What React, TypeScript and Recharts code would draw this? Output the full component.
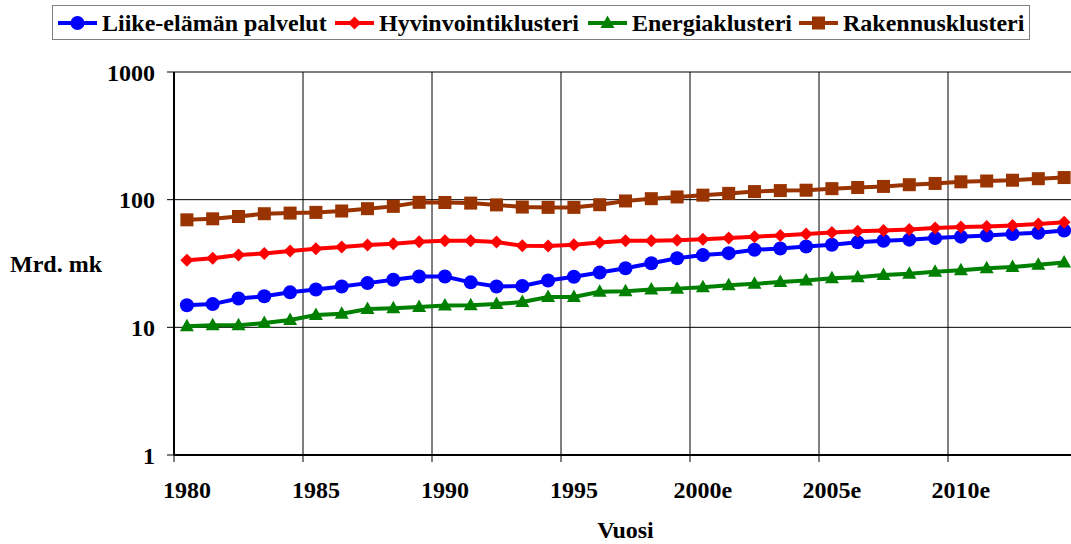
import { LineChart, Line, XAxis, YAxis, CartesianGrid, ReferenceLine, Legend } from 'recharts';

const years = [
  1980, 1981, 1982, 1983, 1984, 1985, 1986, 1987, 1988, 1989,
  1990, 1991, 1992, 1993, 1994, 1995, 1996, 1997, 1998, 1999,
  2000, 2001, 2002, 2003, 2004, 2005, 2006, 2007, 2008, 2009,
  2010, 2011, 2012, 2013, 2014,
];

const liikeElama = [
  14.9, 15.2, 16.8, 17.5, 18.8, 19.8, 20.9, 22.2, 23.6, 25.0,
  25.0, 22.5, 20.9, 21.1, 23.3, 24.9, 26.9, 29.0, 31.8, 34.8,
  36.8, 38.1, 40.5, 41.5, 43.0, 44.3, 46.3, 47.7, 48.6, 50.0,
  51.3, 52.5, 53.8, 55.1, 57.4,
];

const hyvinvointi = [
  33.6, 34.8, 36.8, 37.9, 39.7, 41.2, 42.5, 44.1, 45.2, 46.9,
  47.7, 47.7, 46.6, 43.6, 43.3, 44.3, 46.2, 47.7, 47.7, 48.2,
  49.0, 50.0, 51.3, 52.3, 53.8, 55.4, 56.5, 57.4, 58.5, 59.9,
  61.0, 61.6, 62.8, 64.5, 66.5,
];

const energia = [
  10.2, 10.4, 10.4, 10.8, 11.4, 12.5, 12.8, 13.9, 14.1, 14.4,
  14.8, 14.9, 15.2, 15.8, 17.3, 17.3, 19.0, 19.2, 19.8, 20.1,
  20.6, 21.4, 21.9, 22.7, 23.3, 24.2, 24.7, 25.7, 26.3, 27.3,
  28.0, 29.0, 29.7, 30.9, 32.2,
];

const rakennus = [
  69.5, 70.8, 73.8, 77.6, 78.5, 79.5, 81.5, 85.0, 88.6, 95.3,
  95.0, 94.0, 91.0, 87.5, 87.0, 87.0, 91.3, 97.7, 101.8, 105.0,
  108.5, 112.0, 115.7, 117.8, 118.6, 122.0, 124.5, 127.0, 131.0, 134.0,
  138.0, 140.0, 142.0, 146.0, 149.0,
];

const yTicks = [1, 10, 100, 1000];
const labelYears = [1980, 1985, 1990, 1995, 2000, 2005, 2010];
const boundaryYears = [1979.5, 1984.5, 1989.5, 1994.5, 1999.5, 2004.5, 2009.5, 2014.5];

const series = [
  { key: 'liike', name: 'Liike-elämän palvelut', color: '#0000FF', shape: 'circle', values: liikeElama, legendX: 5 },
  { key: 'hyvin', name: 'Hyvinvointiklusteri', color: '#FF0000', shape: 'diamond', values: hyvinvointi, legendX: 282 },
  { key: 'energia', name: 'Energiaklusteri', color: '#008000', shape: 'triangle', values: energia, legendX: 535 },
  { key: 'rakennus', name: 'Rakennusklusteri', color: '#993300', shape: 'square', values: rakennus, legendX: 746 },
];

const data = years.map((year, i) => {
  const row: Record<string, number> = { year };
  series.forEach((s) => { row[s.key] = s.values[i]; });
  return row;
});

const FONT = "'Liberation Serif', 'Times New Roman', serif";
const FS = 24;

function Marker({ shape, color, cx, cy }: { shape: string; color: string; cx: number; cy: number }) {
  if (shape === 'circle') return <circle cx={cx} cy={cy} r={7} fill={color} />;
  if (shape === 'diamond') {
    const r = 6.5;
    return <polygon points={`${cx},${cy - r} ${cx + r},${cy} ${cx},${cy + r} ${cx - r},${cy}`} fill={color} />;
  }
  if (shape === 'triangle') {
    return <polygon points={`${cx},${cy - 7.5} ${cx + 7},${cy + 5} ${cx - 7},${cy + 5}`} fill={color} />;
  }
  return <rect x={cx - 6.5} y={cy - 6.5} width={13} height={13} fill={color} />;
}

const XTick = (props: any) => {
  const { x, y, payload } = props;
  const v = payload.value;
  if (boundaryYears.includes(v)) {
    return <line x1={x} x2={x} y1={y - 7} y2={y} stroke="#000" strokeWidth={1} />;
  }
  return (
    <text x={x} y={y + 19} dy="0.71em" textAnchor="middle" style={{ fontFamily: FONT }} fontWeight="bold" fontSize={FS} fill="#000">
      {v >= 2000 ? `${v}e` : `${v}`}
    </text>
  );
};

const renderLegend = () => (
  <div
    style={{
      position: 'relative',
      boxSizing: 'border-box',
      width: 978,
      height: 35,
      border: '1px solid #808080',
      background: '#fff',
      fontFamily: FONT,
      fontWeight: 'bold',
      fontSize: FS,
      color: '#000',
    }}
  >
    {series.map((s) => (
      <div
        key={s.key}
        style={{ position: 'absolute', left: s.legendX, top: 0, height: 33, display: 'flex', alignItems: 'center', whiteSpace: 'nowrap' }}
      >
        <svg width={39} height={16} style={{ marginRight: 5 }}>
          <line x1={0} x2={39} y1={8} y2={8} stroke={s.color} strokeWidth={4} />
          <Marker shape={s.shape} color={s.color} cx={19.5} cy={8} />
        </svg>
        <span style={{ lineHeight: '28px' }}>{s.name}</span>
      </div>
    ))}
  </div>
);

const textStyle = { fontFamily: FONT, fontWeight: 'bold', fontSize: FS, fill: '#000' };

export default function App() {
  return (
    <div style={{ position: 'absolute', left: 0, top: 0, width: 1071, height: 544, overflow: 'hidden', background: '#fff', fontFamily: FONT }}>
      <LineChart
        width={1090}
        height={544}
        data={data}
        margin={{ top: 72, right: 13, bottom: 0, left: 0 }}
        style={{ fontFamily: FONT }}
      >
        <CartesianGrid vertical={false} stroke="#000" strokeWidth={1} />
        {boundaryYears.slice(1).map((b) => (
          <ReferenceLine key={b} x={b} stroke="#000" strokeWidth={1} />
        ))}
        <XAxis
          dataKey="year"
          type="number"
          domain={[1979.5, 2014.5]}
          ticks={[...boundaryYears, ...labelYears].sort((a, b) => a - b)}
          interval={0}
          tickLine={false}
          tickSize={7}
          tickMargin={0}
          tick={<XTick />}
          axisLine={{ stroke: '#000', strokeWidth: 2 }}
          height={89}
          label={{ value: 'Vuosi', position: 'insideBottom', offset: 6, style: textStyle }}
        />
        <YAxis
          scale="log"
          domain={[1, 1000]}
          ticks={yTicks}
          interval={0}
          allowDataOverflow
          width={174}
          tickSize={7}
          tickMargin={12}
          tickLine={{ stroke: '#000' }}
          axisLine={{ stroke: '#000', strokeWidth: 2 }}
          tick={{ style: textStyle }}
          label={{ value: 'Mrd. mk', position: 'insideLeft', offset: 10, style: textStyle }}
        />
        <Legend
          verticalAlign="middle"
          align="center"
          layout="horizontal"
          wrapperStyle={{ top: 5, left: 52, width: 978, height: 35 }}
          content={renderLegend}
        />
        {series.map((s) => (
          <Line
            key={s.key}
            dataKey={s.key}
            name={s.name}
            stroke={s.color}
            strokeWidth={4}
            isAnimationActive={false}
            dot={(p: any) => <Marker key={`${s.key}-${p.index}`} shape={s.shape} color={s.color} cx={p.cx} cy={p.cy} />}
            activeDot={false}
          />
        ))}
      </LineChart>
    </div>
  );
}
